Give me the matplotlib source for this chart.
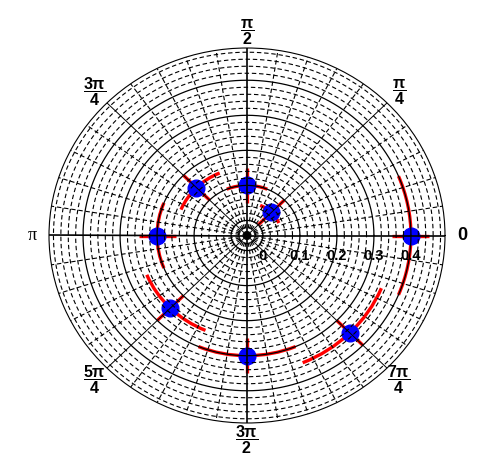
import numpy as np
import matplotlib.pyplot as plt
from matplotlib import transforms

plt.rcParams['mathtext.fontset'] = 'custom'
plt.rcParams['mathtext.bf'] = 'Liberation Sans:bold'
plt.rcParams['mathtext.rm'] = 'Liberation Sans'
plt.rcParams['mathtext.it'] = 'Liberation Sans:italic'

# data points (angle in rad, radius) with errors
theta = [np.pi/4, np.pi/2, 3*np.pi/4, np.pi, 5*np.pi/4, 3*np.pi/2, 7*np.pi/4, 2*np.pi]
radius = [0.05, 0.10, 0.15, 0.20, 0.25, 0.30, 0.35, 0.40]
etheta = [np.pi/8]*8
eradius = [0.05]*8

# axis labels
r_ticks = [0, 0.1, 0.2, 0.3, 0.4]
r_tick_labels = ['0', '0.1', '0.2', '0.3', '0.4']
theta_ticks = [0, np.pi/4, np.pi/2, 3*np.pi/4, np.pi, 5*np.pi/4, 3*np.pi/2, 7*np.pi/4]
theta_tick_labels = ['0',
                     r'$\dfrac{\mathbf{\pi}}{\mathbf{4}}$',
                     r'$\dfrac{\mathbf{\pi}}{\mathbf{2}}$',
                     r'$\dfrac{\mathbf{3\pi}}{\mathbf{4}}$',
                     '\u03c0',
                     r'$\dfrac{\mathbf{5\pi}}{\mathbf{4}}$',
                     r'$\dfrac{\mathbf{3\pi}}{\mathbf{2}}$',
                     r'$\dfrac{\mathbf{7\pi}}{\mathbf{4}}$']

rmin, rmax = -0.043, 0.492

fig = plt.figure(figsize=(4.96, 4.72), dpi=100)
ax = fig.add_axes([49/496, 49/472, 396/496, 375/472], projection='polar')
ax.set_aspect('auto')
ax.set_rlim(rmin, rmax)
ax.set_xticks([])
ax.set_yticks([])
ax.grid(False)
ax.spines['polar'].set_linewidth(0.8)

# polar grid: circles
t = np.linspace(0, 2*np.pi, 721)
for r in np.arange(-0.04, 0.481, 0.02):
    if r > -0.001 and abs(r*10 - round(r*10)) < 1e-6:
        ax.plot(t, np.full_like(t, r), color='black', lw=0.9, zorder=4)
    else:
        ax.plot(t, np.full_like(t, r), color='black', lw=0.8,
                linestyle=(0, (4, 2.5)), zorder=4)

# polar grid: radial lines every 9 deg
for k in range(40):
    a = k*np.pi/20
    if k % 10 == 0:
        ax.plot([a, a], [rmin, rmax], color='black', lw=1.2, zorder=4)
    elif k % 5 == 0:
        ax.plot([a, a], [rmin, rmax], color='black', lw=0.7, zorder=4)
    else:
        ax.plot([a, a], [rmin, rmax], color='black', lw=0.8,
                linestyle=(0, (4, 2.5)), zorder=4)

# data with error bars
ax.errorbar(theta, radius, xerr=etheta, yerr=eradius, fmt='o',
            color='#0000ff', markersize=12, ecolor='#ff0000',
            elinewidth=2.4, capsize=0, zorder=3)

# radial labels below the horizontal axis
off = transforms.offset_copy(ax.transData, fig=fig, x=0, y=-20, units='dots')
for r, lab in zip(r_ticks, r_tick_labels):
    ax.text(0, r, lab, transform=off, ha='center', va='center',
            fontsize=10.5, fontweight='bold', family='Liberation Sans')

# angular labels
for a, lab in zip(theta_ticks, theta_tick_labels):
    if lab == '0':
        ax.text(a, 0.538, lab, ha='center', va='center', fontsize=13,
                fontweight='bold', family='Liberation Sans')
    elif lab == '\u03c0':
        ax.text(a, 0.538, lab, ha='center', va='center', fontsize=13,
                family='Liberation Serif')
    else:
        ax.text(a, 0.538, lab, ha='center', va='center', fontsize=11.5)

fig.savefig('out.png', dpi=100)
